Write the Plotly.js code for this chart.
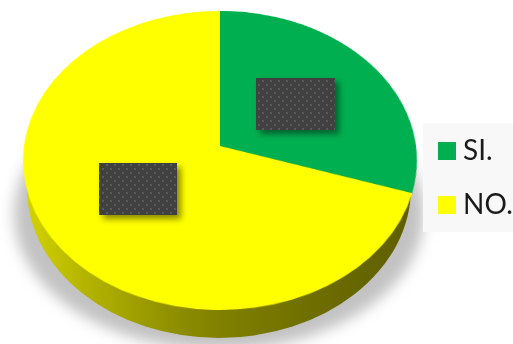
<!DOCTYPE html>
<html>
<head>
<meta charset="utf-8">
<script src="https://cdn.plot.ly/plotly-3.0.1.min.js"></script>
<style>
  html, body { margin: 0; padding: 0; background: #fff; width: 513px; height: 344px; overflow: hidden; }
  .layer { position: absolute; }
  #base, #front { left: 0; top: 0; width: 513px; height: 344px; }
  /* The disc is a flat Plotly pie laid back in perspective */
  #disc { left: 24px; top: -50px; width: 392px; height: 392px;
          transform-origin: 50% 50%;
          transform: perspective(1325px) rotateX(40.9deg); }
</style>
</head>
<body>
<div id="base" class="layer"></div>
<div id="disc" class="layer"></div>
<div id="front" class="layer"></div>
<script>
const categories = ['SI.', 'NO.'];
const shares = [30, 70];
const sliceColors = ['#00b050', '#ffff00'];

const config = { staticPlot: true, displayModeBar: false };
const bare = { margin: { l: 0, r: 0, t: 0, b: 0 }, paper_bgcolor: 'rgba(0,0,0,0)', plot_bgcolor: 'rgba(0,0,0,0)', showlegend: false };
const pixelAxes = {
  xaxis: { range: [0, 513], visible: false, fixedrange: true },
  yaxis: { range: [344, 0], visible: false, fixedrange: true }
};
const svgUri = s => 'data:image/svg+xml;charset=utf-8,' + encodeURIComponent(s);
const fullImage = src => ({ source: src, xref: 'paper', yref: 'paper', x: 0, y: 1, sizex: 1, sizey: 1, xanchor: 'left', yanchor: 'top', sizing: 'stretch', layer: 'below' });

// Cast shadow and the dark side wall of the disc
const wall = `<svg xmlns="http://www.w3.org/2000/svg" width="513" height="344" viewBox="0 0 513 344">
  <defs>
    <filter id="soft" x="-20%" y="-20%" width="140%" height="140%"><feGaussianBlur stdDeviation="7"/></filter>
    <linearGradient id="side" x1="0" x2="1" y1="0" y2="0">
      <stop offset="0" stop-color="#d2d200"/>
      <stop offset="0.15" stop-color="#b4b400"/>
      <stop offset="0.4" stop-color="#8c8c00"/>
      <stop offset="0.55" stop-color="#7c7c00"/>
      <stop offset="0.8" stop-color="#6a6a00"/>
      <stop offset="1" stop-color="#5e5e00"/>
    </linearGradient>
  </defs>
  <ellipse cx="219" cy="214" rx="205" ry="136" fill="#c2c2c2" filter="url(#soft)"/>
  <ellipse cx="219" cy="188" rx="192" ry="150" fill="url(#side)"/>
</svg>`;

Plotly.newPlot('base', [], Object.assign({ width: 513, height: 344, images: [fullImage(svgUri(wall))] }, bare, pixelAxes), config);

Plotly.newPlot('disc', [{
  type: 'pie',
  labels: categories,
  values: shares,
  sort: false,
  direction: 'clockwise',
  rotation: 0,
  textinfo: 'none',
  hoverinfo: 'skip',
  marker: { colors: sliceColors, line: { width: 0 } },
  domain: { x: [0, 1], y: [0, 1] }
}], Object.assign({ width: 392, height: 392 }, bare), config);

// Dark dotted value plates with drop shadows
const plates = [[256, 78, 79, 52], [99, 163, 78, 52]];
const plateSvg = `<svg xmlns="http://www.w3.org/2000/svg" width="513" height="344" viewBox="0 0 513 344">
  <defs>
    <filter id="drop" x="-20%" y="-20%" width="140%" height="140%"><feGaussianBlur stdDeviation="3"/></filter>
    <pattern id="dots" width="8" height="8" patternUnits="userSpaceOnUse">
      <rect width="8" height="8" fill="#404040"/>
      <rect x="6" y="0" width="2" height="2" fill="#5a5a5a"/>
      <rect x="2" y="4" width="2" height="2" fill="#5a5a5a"/>
    </pattern>
  </defs>
  ${plates.map(p => `<rect x="${p[0] + 4}" y="${p[1] + 4}" width="${p[2]}" height="${p[3]}" fill="#000" fill-opacity="0.45" filter="url(#drop)"/>
  <rect x="${p[0]}" y="${p[1]}" width="${p[2]}" height="${p[3]}" fill="url(#dots)"/>`).join('')}
</svg>`;

// Legend panel, swatches and labels
const legendRows = [151, 205];
const swatch = 9;
const shapes = [{ type: 'rect', xref: 'x', yref: 'y', x0: 423, x1: 513, y0: 123, y1: 232, fillcolor: '#f8f8f8', line: { width: 0 }, layer: 'below' }]
  .concat(categories.map((c, i) => ({
    type: 'rect', xref: 'x', yref: 'y', x0: 447 - swatch, x1: 447 + swatch,
    y0: legendRows[i] - swatch, y1: legendRows[i] + swatch,
    fillcolor: sliceColors[i], line: { width: 0 }
  })));
const annotations = categories.map((c, i) => ({
  xref: 'x', yref: 'y', x: 461, y: legendRows[i], yshift: 2, text: c, showarrow: false,
  xanchor: 'left', yanchor: 'middle',
  font: { family: 'Lato, sans-serif', size: 28, color: '#1a1a1a' }
}));

Plotly.newPlot('front', [], Object.assign({
  width: 513, height: 344, shapes, annotations,
  images: [Object.assign(fullImage(svgUri(plateSvg)), { layer: 'above' })]
}, bare, pixelAxes), config);
</script>
</body>
</html>
